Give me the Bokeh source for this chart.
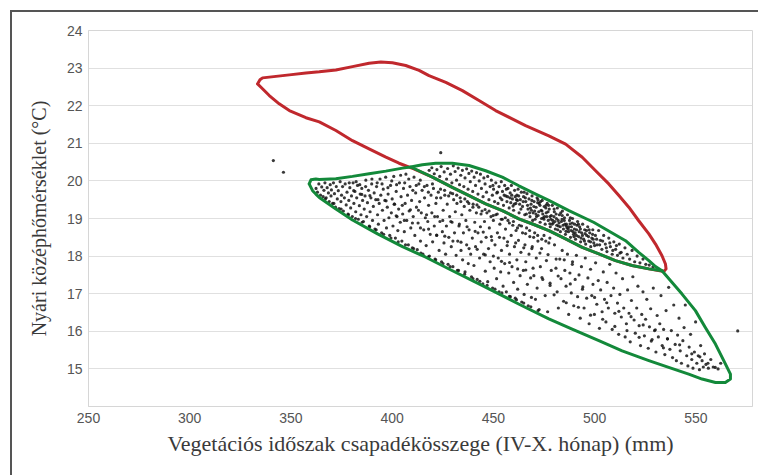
from bokeh.plotting import figure
from bokeh.models import FixedTicker, Range1d
from bokeh.embed import file_html
from bokeh.resources import INLINE

# ---- axis values ----
x_ticks = [250, 300, 350, 400, 450, 500, 550]
y_ticks = [15, 16, 17, 18, 19, 20, 21, 22, 23, 24]
x_title = "Vegetációs időszak csapadékösszege (IV-X. hónap) (mm)"
y_title = "Nyári középhőmérséklet (°C)"

# ---- red envelope (closed) ----
red_x = [333.5, 334.7, 336.0, 342.6, 349.2, 357.4, 364.0, 372.2, 380.4, 388.6, 394.4, 400.1,
         406.7, 413.3, 418.2, 426.5, 434.7, 442.9, 451.1, 459.3, 465.9, 477.4, 485.7, 493.9,
         500.5, 507.0, 512.0, 516.9, 521.8, 526.8, 530.1, 533.3, 535.0, 535.3, 534.2,
         526.8, 518.5, 510.3, 502.1, 493.9, 485.7, 477.4, 470.0, 462.6, 454.4, 446.2, 438.0,
         429.7, 419.9, 410.7, 403.4, 396.9, 388.6, 380.4, 372.2, 364.0, 357.4, 349.2, 344.2,
         339.3, 335.2, 333.5]
red_y = [22.58, 22.69, 22.74, 22.78, 22.82, 22.87, 22.90, 22.95, 23.04, 23.13, 23.16, 23.14,
         23.07, 22.94, 22.80, 22.62, 22.40, 22.14, 21.87, 21.65, 21.47, 21.20, 20.98, 20.63,
         20.27, 19.92, 19.61, 19.30, 18.94, 18.59, 18.32, 18.01, 17.79, 17.66, 17.59,
         17.66, 17.75, 17.88, 18.06, 18.23, 18.46, 18.68, 18.84, 18.99, 19.21, 19.39, 19.61,
         19.83, 20.10, 20.32, 20.47, 20.63, 20.85, 21.07, 21.34, 21.57, 21.68, 21.87, 22.05,
         22.27, 22.49, 22.58]

# ---- green envelope (outer loop) ----
green_x = [359.0, 359.9, 362.3, 364.0, 372.2, 380.4, 388.6, 396.9, 405.1, 409.2, 414.9, 421.5,
           429.7, 438.0, 446.2, 454.4, 462.6, 470.9, 477.4, 487.3, 499.5, 515.3, 521.8, 526.8,
           530.1, 533.3, 538.3, 543.2, 549.8, 554.7, 559.7, 563.8, 567.1, 567.1, 564.6, 559.7,
           553.1, 546.5, 536.6, 526.8, 513.6, 502.1, 488.9, 477.4, 462.7, 454.4, 442.9, 429.8,
           416.6, 405.1, 392.8, 380.4, 372.2, 364.0, 362.3, 360.7, 359.0]
green_y = [19.92, 20.03, 20.05, 20.04, 20.06, 20.12, 20.19, 20.26, 20.34, 20.37, 20.43, 20.47,
           20.47, 20.41, 20.27, 20.10, 19.87, 19.65, 19.48, 19.21, 18.90, 18.41, 18.10, 17.88,
           17.72, 17.61, 17.30, 16.99, 16.55, 16.10, 15.66, 15.22, 14.86, 14.73, 14.64, 14.64,
           14.73, 14.86, 15.04, 15.22, 15.48, 15.75, 16.06, 16.33, 16.72, 16.95, 17.26, 17.61,
           17.97, 18.25, 18.59, 18.96, 19.25, 19.56, 19.65, 19.74, 19.92]

# ---- green inner chord ----
chord_x = [409.2, 419.9, 429.7, 438.0, 446.2, 454.4, 462.6, 470.0, 477.4, 485.7, 493.9, 502.1,
           510.3, 518.5, 526.8, 533.3]
chord_y = [20.37, 20.10, 19.83, 19.61, 19.39, 19.21, 18.99, 18.84, 18.68, 18.46, 18.23, 18.06,
           17.88, 17.75, 17.66, 17.61]

# ---- scatter points ----
lens_pts = [
    (418.3, 20.28), (419.6, 20.35), (420.8, 20.19), (422.1, 20.30), (423.5, 20.12), (424.2, 20.38),
    (425.7, 20.24), (426.9, 20.05), (427.4, 20.33), (428.8, 20.18), (429.5, 19.95), (430.2, 20.40),
    (431.1, 20.25), (431.8, 20.02), (432.6, 20.34), (433.3, 19.90), (433.9, 20.15), (434.7, 20.28),
    (435.4, 19.85), (436.0, 20.08), (436.8, 20.32), (437.5, 19.78), (437.9, 20.20), (438.6, 19.98),
    (439.3, 20.26), (439.8, 19.72), (440.5, 20.10), (441.2, 19.88), (441.7, 20.22), (442.4, 19.65),
    (443.0, 20.00), (443.6, 20.18), (444.1, 19.80), (444.9, 19.58), (445.3, 20.08), (445.9, 19.92),
    (446.6, 19.70), (447.2, 20.12), (447.8, 19.50), (448.4, 19.85),
    (449.0, 20.02), (449.5, 19.62), (450.1, 19.78), (450.6, 19.45), (451.2, 19.95), (451.7, 19.68),
    (452.3, 19.40), (452.8, 19.85), (453.4, 19.55), (453.9, 19.98), (454.5, 19.72), (455.0, 19.35),
    (455.6, 19.88), (456.1, 19.60), (456.7, 19.45), (457.2, 19.80), (457.8, 19.28), (458.3, 19.68),
    (458.9, 19.88), (459.4, 19.52), (460.0, 19.22), (460.5, 19.75), (461.1, 19.40), (461.6, 19.62),
    (462.2, 19.78), (462.7, 19.15), (463.3, 19.50), (463.8, 19.70), (464.4, 19.32), (464.9, 19.58),
    (465.5, 19.10), (466.0, 19.45), (466.6, 19.66), (449.8, 19.88), (452.0, 19.70), (454.2, 19.50),
    (456.4, 19.78), (458.6, 19.42), (460.8, 19.58), (463.0, 19.38), (465.2, 19.70), (457.0, 19.58),
    (461.9, 19.48), (459.7, 19.33), (455.3, 19.62),
    (467.1, 19.25), (467.6, 19.52), (468.1, 19.05), (468.6, 19.38), (469.1, 19.60), (469.6, 19.15),
    (470.1, 19.45), (470.6, 18.98), (471.1, 19.30), (471.6, 19.55), (472.1, 19.08), (472.6, 19.40),
    (473.1, 18.90), (473.6, 19.22), (474.1, 19.48), (474.6, 19.02), (475.1, 19.32), (475.6, 18.85),
    (476.1, 19.15), (476.6, 19.40), (477.1, 18.95), (477.6, 19.25), (478.1, 18.78), (478.6, 19.08),
    (479.1, 19.35), (479.6, 18.88), (480.1, 19.18), (480.6, 18.72), (481.1, 19.00), (481.6, 19.28),
    (482.1, 18.80), (482.6, 19.10), (483.1, 18.65), (483.6, 18.92), (484.1, 19.20), (484.6, 18.72),
    (485.1, 19.02), (485.6, 18.58), (486.1, 18.85), (486.6, 19.10), (487.1, 18.65), (487.6, 18.95),
    (488.1, 18.50), (488.6, 18.78), (489.1, 19.00), (489.6, 18.58), (490.1, 18.85), (490.6, 18.45),
    (491.1, 18.70), (491.6, 18.92), (492.1, 18.52), (492.6, 18.78), (493.1, 18.38), (493.6, 18.62),
    (494.1, 18.85), (494.6, 18.45), (495.1, 18.70), (495.6, 18.32), (496.1, 18.55), (496.6, 18.78),
    (497.1, 18.40), (497.6, 18.62), (498.1, 18.25), (498.6, 18.48), (499.1, 18.70), (499.6, 18.35),
    (468.3, 19.28), (470.4, 19.20), (472.4, 19.18), (474.4, 19.12), (476.4, 19.05), (478.4, 18.98),
    (480.4, 18.92), (482.4, 18.88), (484.4, 18.82), (486.4, 18.75), (488.4, 18.68), (490.4, 18.62),
    (492.4, 18.65), (469.4, 18.95), (473.8, 19.00), (477.9, 18.86), (481.8, 18.70), (485.9, 18.66),
    (489.8, 18.52), (471.9, 19.42), (475.9, 19.28), (479.9, 19.05), (483.9, 18.98), (487.9, 18.86),
    (500.4, 18.55), (501.2, 18.30), (502.0, 18.68), (502.9, 18.42), (503.6, 18.18), (504.5, 18.55),
    (505.3, 18.32), (506.1, 18.12), (507.0, 18.48), (507.8, 18.25), (508.7, 18.05), (509.5, 18.38),
    (510.4, 18.18), (511.3, 18.02), (512.2, 18.32), (513.1, 18.10), (514.0, 17.95), (515.0, 18.22),
    (516.1, 18.05), (517.3, 17.92), (518.5, 18.15), (519.8, 17.85), (521.0, 18.00), (522.4, 17.82),
    (523.9, 17.92), (525.3, 17.78), (527.0, 17.76), (528.8, 17.71),
]

core_pts = [
    (458.2, 19.55), (459.1, 19.62), (460.3, 19.38), (461.4, 19.50), (462.5, 19.60), (463.6, 19.25),
    (464.7, 19.45), (465.8, 19.55), (466.9, 19.35), (467.9, 19.15), (469.0, 19.48), (470.0, 19.32),
    (471.0, 19.12), (472.0, 19.50), (473.0, 19.35), (474.0, 19.20), (475.0, 18.98), (476.0, 19.35),
    (477.0, 19.18), (478.0, 19.05), (479.0, 18.85), (480.0, 19.25), (481.0, 19.12), (482.0, 18.95),
    (483.0, 18.78), (484.0, 19.08), (485.0, 18.95), (486.0, 18.80), (487.0, 18.72), (488.0, 19.02),
    (489.0, 18.88), (490.0, 18.72), (491.0, 18.55), (492.0, 18.85), (493.0, 18.72), (494.0, 18.55),
    (495.0, 18.40), (496.0, 18.68), (497.0, 18.52), (498.0, 18.38), (499.0, 18.58), (500.0, 18.28),
    (501.0, 18.45), (502.5, 18.30), (504.0, 18.40), (505.8, 18.22), (507.5, 18.35), (509.0, 18.15),
    (510.8, 18.28), (512.5, 18.08),
    (466.3, 19.12), (468.8, 19.22), (471.3, 19.05), (473.3, 19.45), (475.3, 19.05), (477.3, 19.35),
    (479.3, 18.95), (481.3, 18.82), (483.3, 19.15), (485.3, 18.85), (487.3, 18.78), (489.3, 18.65),
    (491.3, 18.82), (493.3, 18.48), (495.3, 18.60), (497.3, 18.70), (499.3, 18.45),
]

low_pts = [
    (362.4, 19.80), (363.1, 19.70), (363.8, 19.92), (364.6, 19.62), (365.2, 19.84), (365.9, 19.58),
    (366.3, 19.75), (366.8, 19.95), (367.4, 19.55), (367.9, 19.82), (368.5, 19.68), (368.9, 19.45),
    (369.4, 19.90), (369.8, 19.60), (370.0, 19.76),
    (370.6, 19.40), (371.0, 19.95), (371.5, 19.66), (372.0, 19.30), (372.4, 19.85), (372.9, 19.52),
    (373.4, 19.74), (373.8, 19.26), (374.3, 19.98), (374.7, 19.45), (375.0, 19.62),
    (375.5, 19.85), (375.9, 19.20), (376.4, 19.55), (376.8, 19.92), (377.3, 19.36), (377.7, 19.70),
    (378.2, 19.12), (378.6, 19.48), (379.1, 19.82), (379.5, 19.28), (379.9, 19.60), (380.3, 19.05),
    (380.7, 19.95), (381.1, 19.40), (381.6, 19.72), (382.0, 19.18), (382.5, 19.55), (382.9, 19.88),
    (383.3, 18.98), (383.8, 19.34), (384.2, 19.65), (384.6, 19.10), (385.0, 19.80), (385.4, 19.48),
    (385.8, 18.92),
    (386.2, 19.25), (386.6, 19.60), (387.0, 20.02), (387.4, 19.05), (387.8, 19.42), (388.3, 19.75),
    (388.7, 18.80), (389.1, 19.18), (389.5, 19.55), (389.9, 19.92), (390.3, 18.95), (390.7, 19.32),
    (391.1, 19.68), (391.5, 18.72),
    (391.9, 19.50), (392.3, 19.85), (392.8, 19.10), (393.2, 18.85), (393.6, 19.40), (394.0, 20.05),
    (394.4, 19.62), (394.8, 18.62), (395.2, 19.22), (395.6, 19.78), (396.0, 18.95), (396.4, 19.48),
    (396.8, 20.10), (397.2, 18.75),
    (397.6, 19.30), (398.0, 19.65), (398.4, 19.02), (398.8, 18.55), (399.2, 19.88), (399.6, 19.15),
    (400.0, 19.52), (400.4, 18.80), (400.8, 20.12), (401.2, 19.38), (401.6, 18.48), (402.0, 19.72),
    (402.4, 19.05), (402.8, 18.68),
    (403.2, 19.25), (403.6, 19.95), (404.0, 18.90), (404.4, 19.58), (404.8, 18.40), (405.2, 19.12),
    (405.6, 19.80), (406.0, 18.65), (406.4, 19.40), (406.8, 20.18), (407.2, 18.95), (407.6, 19.62),
    (408.0, 18.30), (408.4, 19.20),
    (408.8, 19.85), (409.2, 18.75), (409.6, 19.48), (410.0, 18.22), (410.4, 19.05), (410.8, 20.10),
    (411.2, 18.55), (411.6, 19.68), (412.0, 19.30), (412.4, 18.17), (412.8, 18.88), (413.2, 19.92),
    (413.6, 19.45),
    (414.0, 18.40), (414.4, 19.15), (414.8, 19.75), (415.2, 18.05), (415.6, 18.70), (416.0, 19.55),
    (416.4, 19.02), (416.8, 18.28), (417.2, 19.88), (417.6, 18.92), (418.0, 19.35), (418.4, 18.00),
    (418.8, 18.58), (419.2, 19.62), (419.6, 19.15),
    (420.0, 18.38), (420.4, 19.80), (420.8, 18.80), (421.2, 17.92), (421.6, 19.40), (422.0, 18.55),
    (422.4, 19.05), (422.8, 19.70), (423.2, 18.15), (423.6, 18.92), (424.0, 19.55), (424.4, 17.85),
    (424.8, 18.65), (425.2, 19.22), (425.6, 18.35),
    (426.0, 19.62), (426.4, 18.05), (426.8, 18.80), (427.2, 19.38), (427.6, 17.78), (428.0, 18.50),
    (428.4, 19.05), (428.8, 19.68), (429.2, 18.25), (429.6, 18.90), (430.0, 17.72), (430.4, 19.50),
    (430.8, 18.62), (431.2, 19.18), (431.6, 18.02),
    (432.0, 19.40), (432.4, 18.40), (432.8, 17.62), (433.2, 18.85), (433.6, 19.55), (434.0, 18.15),
    (434.4, 19.10), (434.8, 17.90), (435.2, 18.62), (435.6, 19.32), (436.0, 17.58), (436.4, 18.95),
    (436.8, 18.30), (437.2, 19.45), (437.6, 17.80),
    (438.0, 18.70), (438.4, 19.22), (438.8, 18.05), (439.2, 17.45), (439.6, 18.48), (440.0, 19.38),
    (440.4, 17.75), (440.8, 18.90), (441.2, 18.25), (441.6, 19.15), (442.0, 17.38), (442.4, 18.62),
    (442.8, 19.30), (443.2, 17.95), (443.6, 18.78), (444.0, 18.38),
    (444.4, 19.20), (444.8, 17.26), (445.2, 18.05), (445.6, 18.92), (446.0, 17.60), (446.4, 18.50),
    (446.8, 19.15), (447.2, 17.32), (447.6, 18.20), (448.0, 18.75), (448.4, 17.85), (448.8, 19.05),
    (449.2, 18.42), (449.6, 17.15), (450.0, 18.95), (450.4, 17.68),
    (450.8, 18.30), (451.2, 19.10), (451.6, 17.40), (452.0, 18.62), (452.4, 17.95), (452.8, 17.05),
    (453.2, 18.85), (453.6, 17.58), (454.0, 18.15), (454.4, 18.98), (454.8, 17.20), (455.2, 18.48),
    (455.6, 17.80), (456.0, 18.72), (456.4, 17.05), (456.8, 18.28),
    (457.2, 18.95), (457.6, 17.55), (458.0, 18.05), (458.4, 16.92), (458.8, 18.55), (459.2, 17.72),
    (459.6, 18.82), (460.0, 17.30), (460.4, 18.25), (460.8, 16.88), (461.2, 18.68), (461.6, 17.90),
    (462.0, 17.12), (462.4, 18.42), (462.8, 18.82), (463.2, 17.48),
    (463.6, 18.10), (464.0, 16.78), (464.4, 18.62), (464.8, 17.62), (465.2, 16.98), (465.6, 18.30),
    (466.0, 17.85), (466.4, 18.75), (466.8, 17.25), (467.2, 16.68), (467.6, 18.05), (468.0, 18.52),
    (468.4, 17.42), (468.8, 16.90), (469.2, 18.25), (469.6, 17.68),
    (470.4, 18.62), (470.8, 16.85), (471.2, 17.95), (471.6, 17.15), (472.0, 18.40), (472.6, 16.58),
    (473.2, 17.72), (473.8, 18.20), (474.4, 17.38), (475.0, 18.55), (475.6, 16.95), (476.2, 17.88),
    (476.8, 16.52), (477.4, 18.35), (478.0, 17.22), (478.6, 17.62),
]

upper_low_pts = [
    (378.8, 19.95), (382.2, 19.98), (384.0, 19.90), (386.9, 19.85), (390.0, 20.05), (392.6, 19.95),
    (395.0, 19.92), (397.9, 19.82), (399.8, 20.00), (402.2, 19.90), (404.2, 20.15), (406.2, 19.95),
    (408.2, 20.05), (410.2, 19.75), (411.9, 19.88), (413.9, 20.02), (415.9, 19.85), (417.9, 19.70),
    (419.9, 19.92), (421.9, 19.55), (423.9, 19.78), (425.9, 19.75), (427.9, 19.60), (429.9, 19.66),
    (431.9, 19.62), (433.9, 19.45), (435.9, 19.52), (437.9, 19.40), (439.9, 19.30), (441.9, 19.36),
    (443.9, 19.12), (445.9, 19.24), (447.9, 19.20), (449.9, 19.08), (451.9, 19.12), (453.9, 18.98),
    (455.9, 19.02), (457.9, 18.88), (459.9, 18.92), (461.9, 18.75), (463.9, 18.80), (465.9, 18.60),
    (467.9, 18.68), (469.9, 18.50), (471.9, 18.55), (473.9, 18.45), (475.9, 18.40), (477.9, 18.48),
]

edge_low_pts = [
    (367.0, 19.52), (371.2, 19.40), (374.8, 19.25), (378.4, 19.10), (381.9, 19.00), (385.2, 18.90),
    (388.9, 18.78), (392.1, 18.70), (395.8, 18.58), (399.4, 18.48), (403.0, 18.38), (406.6, 18.30),
    (410.6, 18.20), (414.2, 18.08), (417.9, 17.98), (421.5, 17.90), (425.1, 17.80), (428.6, 17.72),
    (432.2, 17.62), (435.8, 17.52), (439.9, 17.40), (443.3, 17.33), (446.9, 17.22), (450.8, 17.12),
    (454.2, 17.02), (457.9, 16.93), (461.4, 16.84), (465.0, 16.75), (468.5, 16.65), (472.1, 16.55),
]

tail_pts = [
    (480.2, 18.30), (480.9, 17.68), (481.5, 17.05), (482.1, 16.62), (482.8, 17.92), (483.4, 17.40),
    (484.0, 18.15), (484.7, 16.80), (485.3, 17.62), (485.9, 17.20), (486.6, 18.05), (487.2, 16.45),
    (487.8, 17.55), (488.5, 17.02), (489.1, 17.85), (489.7, 16.68), (490.4, 17.38), (491.0, 18.02),
    (491.6, 16.92), (492.3, 17.50), (492.9, 16.35), (493.5, 17.72), (494.2, 17.18), (494.8, 16.62),
    (495.4, 17.95), (496.1, 16.88), (496.7, 17.42), (497.3, 16.20), (498.0, 17.65), (498.6, 16.95),
    (499.2, 17.25), (499.9, 16.45), (500.5, 17.82), (501.1, 16.72), (501.8, 17.35), (502.4, 16.08),
    (503.0, 17.10), (503.7, 16.52), (504.3, 17.58), (504.9, 16.85), (505.6, 16.25), (506.2, 17.30),
    (506.8, 16.62), (507.5, 17.78), (508.1, 16.95), (508.7, 16.05), (509.4, 17.15), (510.0, 16.48),
    (510.6, 17.55), (511.3, 16.75), (511.9, 15.92), (512.5, 16.98), (513.2, 16.38), (513.8, 17.40),
    (514.4, 16.62), (515.1, 15.85), (515.7, 16.20), (516.3, 17.10), (517.0, 16.48), (517.6, 15.72),
    (518.2, 16.82), (518.9, 17.45), (519.5, 16.30), (520.1, 15.95), (520.8, 16.62), (521.4, 17.20),
    (522.0, 16.15), (522.7, 15.62), (523.3, 16.45), (523.9, 17.05), (524.6, 15.88), (525.2, 16.32),
    (525.8, 16.85), (526.5, 15.55), (527.1, 16.12), (527.7, 16.60), (528.4, 15.78), (529.0, 17.15),
    (529.6, 16.02), (530.3, 15.45), (530.9, 16.42), (531.5, 15.85), (532.2, 16.20), (532.8, 16.95),
    (533.4, 15.62), (534.1, 16.05), (534.7, 15.38), (535.3, 16.55), (536.0, 15.80), (536.6, 17.17),
    (537.2, 15.52), (537.9, 16.02), (538.5, 15.30), (539.1, 16.70), (539.8, 15.65), (540.4, 15.22),
    (541.0, 15.90), (541.7, 16.35), (542.3, 15.48), (542.9, 15.15), (543.6, 15.75), (544.2, 16.10),
    (544.8, 16.70), (545.5, 15.35), (546.1, 15.08), (546.7, 15.58), (547.4, 15.92), (548.0, 15.25),
    (548.6, 15.02), (549.3, 15.45), (549.9, 16.25), (550.5, 15.15), (551.2, 15.35), (551.8, 14.98),
    (552.4, 15.62), (553.1, 15.22), (553.7, 15.05), (554.3, 15.40), (555.0, 15.12), (556.2, 15.02),
    (557.4, 15.25), (558.6, 15.05), (559.6, 15.04), (561.0, 15.00), (562.3, 15.15),
]

streak_pts = [
    (381, 19.74), (385, 19.64), (389, 19.61), (393, 19.50), (397, 19.47), (401, 19.38), (405, 19.35),
    (409, 19.23), (413, 19.22), (417, 19.10), (421, 19.05), (425, 18.95), (429, 18.92), (433, 18.80),
    (437, 18.78), (441, 18.66), (445, 18.64), (449, 18.52), (453, 18.50), (457, 18.38), (461, 18.35),
    (465, 18.22), (469, 18.20), (473, 18.08), (477, 18.04), (481, 17.92), (485, 17.90), (489, 17.78),
    (402, 19.07), (406, 18.95), (410, 18.88), (414, 18.75), (418, 18.72), (422, 18.56), (426, 18.53),
    (430, 18.40), (434, 18.37), (438, 18.20), (442, 18.18), (446, 18.03), (450, 18.00), (454, 17.86),
    (458, 17.83), (462, 17.66), (466, 17.63), (470, 17.48), (474, 17.43), (478, 17.28),
    (482, 17.47), (488, 17.26), (494, 17.12), (500, 16.90), (506, 16.76), (512, 16.53), (518, 16.39),
    (524, 16.17), (530, 16.04), (536, 15.80), (542, 15.64), (548, 15.40), (552, 15.32), (556, 15.15),
    (480, 16.97), (486, 16.76), (492, 16.64), (498, 16.43), (504, 16.32), (510, 16.13), (516, 16.02),
    (522, 15.84), (528, 15.74), (534, 15.56),
]

outlier_pts = [(341.3, 20.54), (346.3, 20.23), (424.0, 20.75), (570.7, 16.01)]

all_pts = (lens_pts + core_pts + low_pts + upper_low_pts + edge_low_pts + tail_pts
           + streak_pts + outlier_pts)
pts_x = [pt[0] for pt in all_pts]
pts_y = [pt[1] for pt in all_pts]

p = figure(width=758, height=475,
           x_range=Range1d(250, 578), y_range=Range1d(14, 24),
           output_backend="svg", toolbar_location=None,
           min_border_left=88, min_border_right=6, min_border_top=30, min_border_bottom=69)

p.background_fill_color = "white"
p.border_fill_alpha = 0
p.outline_line_color = "#d6d6d6"
p.outline_line_width = 1
p.styles = {
    "background": "linear-gradient(#555555,#555555) 10px 10px / 2px 100% no-repeat, "
                  "linear-gradient(#555555,#555555) 10px 10px / 100% 2px no-repeat, white"
}

# grid
p.xgrid.visible = False
p.ygrid.ticker = FixedTicker(ticks=y_ticks)
p.ygrid.grid_line_color = "#e0e0e0"
p.ygrid.grid_line_width = 1

for ax in (p.xaxis[0], p.yaxis[0]):
    ax.axis_line_color = "#d6d6d6"
    ax.major_tick_in = 0
    ax.major_tick_out = 0
    ax.minor_tick_in = 0
    ax.minor_tick_out = 0
    ax.major_label_text_font = "Liberation Sans"
    ax.major_label_text_font_size = "14px"
    ax.major_label_text_color = "#555555"
    ax.major_label_standoff = 6
    ax.axis_label_text_font = "Liberation Serif"
    ax.axis_label_text_font_style = "normal"
    ax.axis_label_text_color = "#3a3a3a"

p.xaxis.ticker = FixedTicker(ticks=x_ticks)
p.yaxis.ticker = FixedTicker(ticks=y_ticks)
p.xaxis.axis_label = x_title
p.yaxis.axis_label = y_title
p.xaxis.axis_label_text_font_size = "22px"
p.yaxis.axis_label_text_font_size = "20px"
p.xaxis.axis_label_standoff = 5
p.yaxis.axis_label_standoff = 14

p.scatter(pts_x, pts_y, marker="circle", size=3.2, fill_color="#161616",
          line_color=None, fill_alpha=0.85)

p.line(red_x, red_y, line_color="#c0282d", line_width=3, line_join="round", line_cap="round")
p.line(green_x, green_y, line_color="#13893a", line_width=3, line_join="round", line_cap="round")
p.line(chord_x, chord_y, line_color="#13893a", line_width=3, line_join="round", line_cap="round")

open("out.html", "w").write(file_html(p, INLINE))
